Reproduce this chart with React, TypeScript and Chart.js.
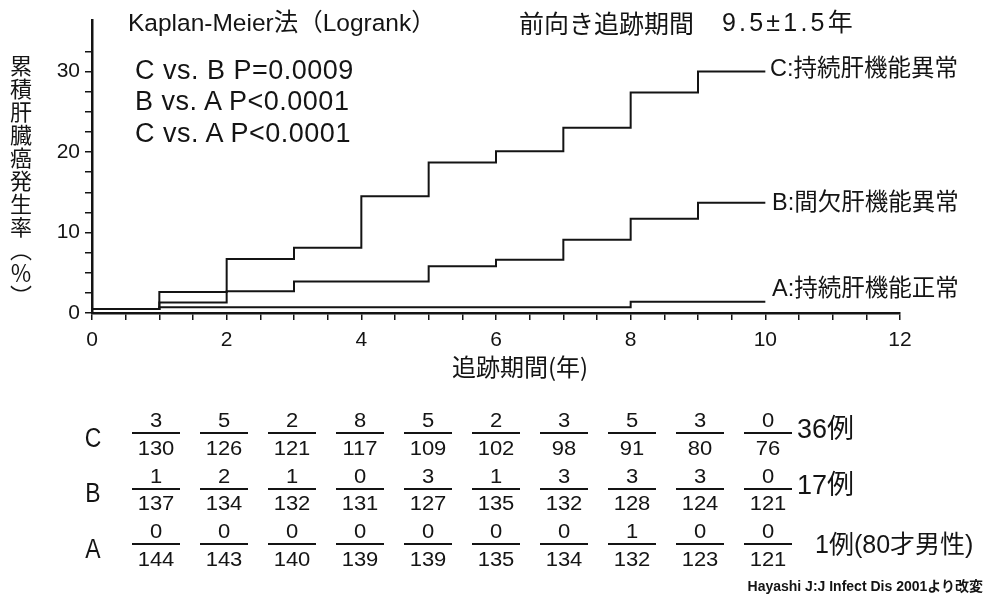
import React, { useEffect, useRef } from "react";
import { Chart, registerables } from "chart.js";

Chart.register(...registerables);

// ---- data ----
const years = [0, 1, 2, 3, 4, 5, 6, 7, 8, 9, 10];
const cumC = [0.5, 2.6, 6.7, 8.1, 14.5, 18.7, 20.1, 23.0, 27.4, 30.0, 30.0];
const cumB = [0.5, 1.3, 2.7, 3.9, 3.9, 5.8, 6.6, 9.1, 11.7, 13.7, 13.7];
const cumA = [0.5, 0.7, 0.7, 0.7, 0.7, 0.7, 0.7, 0.7, 1.4, 1.4, 1.4];

const groupNames = ["C", "B", "A"];
const groupLabels = ["C:持続肝機能異常", "B:間欠肝機能異常", "A:持続肝機能正常"];
const eventsC = [3, 5, 2, 8, 5, 2, 3, 5, 3, 0];
const atRiskC = [130, 126, 121, 117, 109, 102, 98, 91, 80, 76];
const eventsB = [1, 2, 1, 0, 3, 1, 3, 3, 3, 0];
const atRiskB = [137, 134, 132, 131, 127, 135, 132, 128, 124, 121];
const eventsA = [0, 0, 0, 0, 0, 0, 0, 1, 0, 0];
const atRiskA = [144, 143, 140, 139, 139, 135, 134, 132, 123, 121];
const totals = ["36例", "17例", "1例(80才男性)"];

const statLines = ["C vs. B P=0.0009", "B vs. A P<0.0001", "C vs. A P<0.0001"];
const title1 = "Kaplan-Meier法（Logrank）";
const title2a = "前向き追跡期間";
const title2b = "9.5±1.5年";
const yTitle = "累積肝臓癌発生率（％）";
const xTitle = "追跡期間(年)";
const footer = "Hayashi J:J Infect Dis 2001より改変";

const FONT = '"Liberation Sans", "Noto Sans CJK JP", sans-serif';
const CJK = '"Noto Sans CJK JP", "Liberation Sans", sans-serif';
const INK = "#141414";

type TProps = {
  x: number;
  y: number;
  size: number;
  anchor?: "left" | "center" | "right";
  weight?: number;
  sx?: number;
  ls?: number;
  family?: string;
  children: React.ReactNode;
};

function T({ x, y, size, anchor = "left", weight = 400, sx = 1, ls = 0, family = FONT, children }: TProps) {
  const tx = anchor === "center" ? "-50%" : anchor === "right" ? "-100%" : "0";
  const origin = anchor === "center" ? "50% 50%" : anchor === "right" ? "100% 50%" : "0% 50%";
  return (
    <div
      style={{
        position: "absolute",
        left: x,
        top: y - size * 0.6,
        fontSize: size,
        lineHeight: `${size * 1.2}px`,
        fontFamily: family,
        fontWeight: weight,
        letterSpacing: ls,
        color: INK,
        whiteSpace: "nowrap",
        transformOrigin: origin,
        transform: `translateX(${tx}) scaleX(${sx})`,
      }}
    >
      {children}
    </div>
  );
}

export default function App() {
  const ref = useRef<HTMLCanvasElement | null>(null);

  useEffect(() => {
    if (!ref.current) return;
    const mk = (vals: number[]) => years.map((x, i) => ({ x, y: vals[i] }));
    const ds = (label: string, vals: number[]) => ({
      label,
      data: mk(vals),
      stepped: "before" as const,
      borderColor: INK,
      borderWidth: 2,
      pointRadius: 0,
      fill: false,
    });
    const chart = new Chart(ref.current, {
      type: "line",
      data: { datasets: [ds("C", cumC), ds("B", cumB), ds("A", cumA)] },
      options: {
        animation: false,
        responsive: false,
        layout: { padding: { left: 0, right: 87, top: 20, bottom: 221 } },
        plugins: { legend: { display: false }, tooltip: { enabled: false } },
        scales: {
          x: {
            type: "linear",
            min: 0,
            max: 12,
            grid: {
              drawOnChartArea: false,
              drawTicks: true,
              tickLength: 7,
              color: INK,
              tickColor: INK,
              lineWidth: 1.5,
            },
            border: { display: true, color: INK, width: 2.5 },
            ticks: {
              stepSize: 0.5,
              autoSkip: false,
              maxRotation: 0,
              color: INK,
              padding: 8,
              font: { family: FONT, size: 21 },
              callback: (v: any) => (Number(v) % 2 === 0 ? String(v) : ""),
            },
            afterFit: (s: any) => {
              s.height = 66;
            },
          },
          y: {
            type: "linear",
            min: 0,
            max: 36.4,
            grid: {
              drawOnChartArea: false,
              drawTicks: true,
              tickLength: 7,
              color: INK,
              tickColor: INK,
              lineWidth: 1.5,
            },
            border: { display: true, color: INK, width: 2.5 },
            ticks: {
              stepSize: 2.5,
              autoSkip: false,
              color: INK,
              padding: 5,
              font: { family: FONT, size: 21 },
              callback: (v: any) => (Number(v) % 10 === 0 ? String(v) : ""),
            },
            afterBuildTicks: (s: any) => {
              s.ticks = s.ticks.filter(
                (t: any) => Math.abs(t.value / 2.5 - Math.round(t.value / 2.5)) < 1e-6
              );
            },
            afterFit: (s: any) => {
              s.width = 92;
            },
          },
        },
      },
    });
    return () => chart.destroy();
  }, []);

  const rowOffset = [0, 55.5, 111];
  const events = [eventsC, eventsB, eventsA];
  const atRisk = [atRiskC, atRiskB, atRiskA];
  const colX = (i: number) => 156 + 68 * i;

  return (
    <div
      style={{
        position: "absolute",
        left: 0,
        top: 0,
        width: 987,
        height: 600,
        background: "#fff",
        overflow: "hidden",
      }}
    >
      <canvas ref={ref} width={987} height={600} style={{ position: "absolute", left: 0, top: 0 }} />

      <T x={128} y={23} size={24.5}>{title1}</T>
      <T x={519} y={22} size={25} family={CJK}>{title2a}</T>
      <T x={722} y={22} size={25} ls={3.2}>{title2b}</T>
      {statLines.map((s, i) => (
        <T key={s} x={135} y={70 + i * 31.5} size={27} ls={0.5}>{s}</T>
      ))}
      <T x={770} y={68} size={23.5}>{groupLabels[0]}</T>
      <T x={772} y={202} size={23.5}>{groupLabels[1]}</T>
      <T x={772} y={288} size={23.5}>{groupLabels[2]}</T>

      <T x={452} y={366} size={24} family={CJK}>{xTitle}</T>

      <div
        style={{
          position: "absolute",
          left: 9,
          top: 55,
          writingMode: "vertical-rl",
          fontFamily: CJK,
          fontSize: 22,
          lineHeight: "24px",
          color: INK,
          letterSpacing: 1,
        }}
      >
        {yTitle}
      </div>

      {groupNames.map((g, r) => {
        const o = rowOffset[r];
        return (
          <React.Fragment key={g}>
            <T x={93} y={438 + o} size={27} anchor="center" sx={0.85}>{g}</T>
            {events[r].map((e, i) => (
              <React.Fragment key={i}>
                <T x={colX(i)} y={420 + o} size={20} anchor="center" sx={1.1}>{String(e)}</T>
                <div
                  style={{
                    position: "absolute",
                    left: colX(i) - 24,
                    top: 432 + o,
                    width: 48,
                    height: 2,
                    background: INK,
                  }}
                />
                <T x={colX(i)} y={447.5 + o} size={20} anchor="center" sx={1.1}>{String(atRisk[r][i])}</T>
              </React.Fragment>
            ))}
          </React.Fragment>
        );
      })}
      <T x={797} y={429} size={27}>{totals[0]}</T>
      <T x={797} y={485} size={27}>{totals[1]}</T>
      <T x={815} y={544} size={25}>{totals[2]}</T>

      <T x={983} y={586} size={14} anchor="right" weight={700}>{footer}</T>
    </div>
  );
}
